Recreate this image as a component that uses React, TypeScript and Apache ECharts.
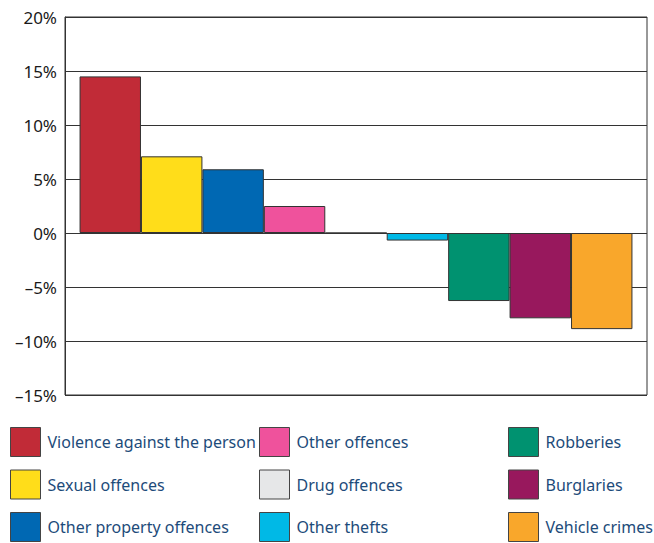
import React, { useEffect, useRef } from "react";
import * as echarts from "echarts";

const categories = [
  "Violence against the person",
  "Sexual offences",
  "Other property offences",
  "Other offences",
  "Drug offences",
  "Other thefts",
  "Robberies",
  "Burglaries",
  "Vehicle crimes",
];
const values = [14.5, 7.1, 5.9, 2.5, 0, -0.7, -6.3, -7.9, -8.9];
const colors = [
  "#c12b37",
  "#ffdd1a",
  "#0068b3",
  "#ef529c",
  "#e6e7e8",
  "#00b9e6",
  "#009270",
  "#98185d",
  "#f9a72b",
];
const legendColumns = [
  ["Violence against the person", "Sexual offences", "Other property offences"],
  ["Other offences", "Drug offences", "Other thefts"],
  ["Robberies", "Burglaries", "Vehicle crimes"],
];
const legendLefts = [10, 259, 508];

export default function App() {
  const ref = useRef<HTMLDivElement>(null);
  useEffect(() => {
    if (!ref.current) return;
    const chart = echarts.init(ref.current, null, { renderer: "svg" });
    const fontFamily = "'Noto Sans', sans-serif";
    chart.setOption({
      animation: false,
      grid: {
        left: 65,
        right: 7,
        top: 17,
        bottom: 148,
        show: true,
        borderColor: "#333",
        borderWidth: 1,
        containLabel: false,
      },
      legend: legendColumns.map((col, i) => ({
        data: col,
        orient: "vertical",
        left: legendLefts[i],
        top: 427,
        itemWidth: 30,
        itemHeight: 29,
        itemGap: 12.5,
        padding: 0,
        icon: "rect",
        selectedMode: false,
        itemStyle: { borderColor: "#444", borderWidth: 1 },
        textStyle: {
          color: "#1d4b7a",
          fontSize: 16,
          fontFamily,
          padding: [0, 0, 0, 2],
        },
      })),
      xAxis: {
        type: "category",
        data: [""],
        axisLine: { show: false },
        axisTick: { show: false },
        axisLabel: { show: false },
      },
      yAxis: {
        type: "value",
        min: -15,
        max: 20,
        interval: 5,
        axisLine: { show: true, lineStyle: { color: "#333" } },
        axisTick: { show: false },
        splitLine: { show: true, lineStyle: { color: "#333", width: 1 } },
        axisLabel: {
          formatter: (v: number) => (v < 0 ? "\u2013" + Math.abs(v) : String(v)) + "%",
          color: "#1a1a1a",
          fontSize: 17,
          fontFamily: "'Noto Sans', sans-serif",
          margin: 8,
        },
      },
      series: categories.map((name, i) => ({
        name,
        type: "bar",
        data: [values[i]],
        barGap: "0%",
        barCategoryGap: "5%",
        itemStyle: {
          color: colors[i],
          borderColor: "#333",
          borderWidth: 1,
        },
      })),
    });
    return () => chart.dispose();
  }, []);
  return <div ref={ref} style={{ width: 654, height: 543, position: "absolute", left: 0, top: 0 }} />;
}
